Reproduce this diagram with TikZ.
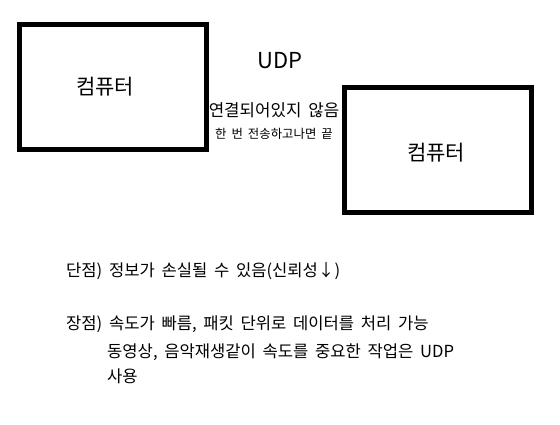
\documentclass[tikz,border=0pt]{standalone}
\usepackage{fontspec}
\setmainfont{Noto Sans CJK KR}[WordSpace=1.8]
\tikzset{
  pcbox/.style={draw=black, line width=5pt, minimum width=187pt, minimum height=125pt, inner sep=0pt},
  pclabel/.style={font=\fontsize{21pt}{24pt}\selectfont, inner sep=0pt},
  bodytext/.style={font=\fontsize{16.6pt}{19pt}\selectfont, inner sep=0pt, anchor=base west},
}
\begin{document}
\begin{tikzpicture}[x=1pt, y=-1pt]
  \path[fill=white, use as bounding box] (0,0) rectangle (560,424);
  \node[pcbox] (pc1) at (113,87) {};
  \node[pclabel] (pc1text) at (105,87) {컴퓨터};
  \node[pcbox] (pc2) at (438,150) {};
  \node[pclabel] (pc2text) at (436,153) {컴퓨터};
  \node[font=\fontsize{22pt}{26pt}\selectfont, inner sep=0pt] (udp) at (280,61) {UDP};
  \node[font=\fontsize{16.8pt}{19pt}\selectfont, inner sep=0pt] (conn) at (274,110) {연결되어있지 않음};
  \node[font=\fontsize{12.4pt}{14pt}\selectfont, inner sep=0pt] (once) at (274,134) {한 번 전송하고나면 끝};
  \node[bodytext] (cons) at (66,276) {단점) 정보가 손실될 수 있음(신뢰성↓)};
  \node[bodytext] (pros) at (66,329) {장점) 속도가 빠름, 패킷 단위로 데이터를 처리 가능};
  \node[bodytext] (use1) at (107,357) {동영상, 음악재생같이 속도를 중요한 작업은 UDP};
  \node[bodytext] (use2) at (107,382) {사용};
\end{tikzpicture}
\end{document}
